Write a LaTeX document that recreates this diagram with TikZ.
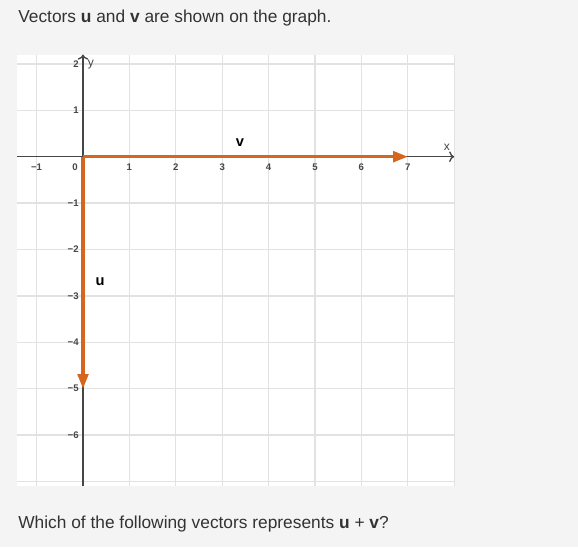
\documentclass[tikz,border=0pt]{standalone}
\usepackage{fontspec}
\setmainfont{Liberation Sans}
\usetikzlibrary{arrows.meta}
\definecolor{vecorange}{RGB}{214,101,30}
\definecolor{gridgray}{RGB}{226,226,226}
\definecolor{pagegray}{RGB}{244,244,244}
\definecolor{axisgray}{RGB}{70,70,70}
\definecolor{textgray}{RGB}{51,51,51}

\begin{document}
\begin{tikzpicture}[x=34.8pt, y=34.8pt, every node/.style={font=\fontsize{13}{15}\selectfont, text=textgray}]
		\tikzset{tick/.style={font=\fontsize{7.2}{8}\selectfont\bfseries, text=axisgray, inner sep=1pt},
			vec/.style={vecorange, line width=2.3pt, -{Triangle[length=11pt,width=8pt]}},
			veclabel/.style={font=\fontsize{11}{13}\selectfont\bfseries, text=black}}
		% page and plot area
		\fill[pagegray] (-1.789,-8.412) rectangle (10.668,3.377);
		\useasboundingbox (-1.789,-8.412) rectangle (10.668,3.377);
		\fill[white] (-1.42,-7.1) rectangle (8,2.2);
		\foreach \x in {-1,...,8}
		{
			\draw[gridgray, line width=1pt] (\x,-7.1) -- (\x,2.2);
		}
		\foreach \y in {-7,...,2}
		{
			\draw[gridgray, line width=1pt] (-1.42,\y) -- (8,\y);
		}
		% axes
		\coordinate (xstart) at (-1.42,0);
		\coordinate (xend) at (8,0);
		\coordinate (ystart) at (0,-7.1);
		\coordinate (yend) at (0,2.2);
		\draw[axisgray, line width=1pt, ->] (xstart) -- (xend);
		\draw[axisgray, line width=1pt, ->] (ystart) -- (yend);
		\node[text=axisgray, font=\fontsize{9}{10}\selectfont] (xlab) at (7.84,0.2) {x};
		\node[text=axisgray, font=\fontsize{9}{10}\selectfont] (ylab) at (0.17,1.98) {y};
		% tick labels
		\node[tick] (t0) at (-0.17,-0.22) {0};
		\foreach \x/\t in {-1/−1,1/1,2/2,3/3,4/4,5/5,6/6,7/7}
		{
			\node[tick] (tx\x) at (\x,-0.22) {\t};
		}
		\foreach \y/\t in {2/2,1/1,-1/−1,-2/−2,-3/−3,-4/−4,-5/−5,-6/−6}
		{
			\node[tick, anchor=east] (ty\y) at (-0.06,\y) {\t};
		}
		% vectors u and v
		\coordinate (O) at (0,0);
		\coordinate (U) at (0,-5);
		\coordinate (V) at (7,0);
		\draw[vec] (O) -- (U);
		\draw[vec] (O) -- (V);
		\node[veclabel] (ulab) at (0.37,-2.7) {u};
		\node[veclabel] (vlab) at (3.38,0.31) {v};
		% question text
		\node[anchor=west, inner sep=0] (head) at (-1.40,2.98) {Vectors \textbf{u} and \textbf{v} are shown on the graph.};
		\node[anchor=west, inner sep=0] (ask) at (-1.40,-7.92) {Which of the following vectors represents \textbf{u} + \textbf{v}?};
\end{tikzpicture}
\end{document}
